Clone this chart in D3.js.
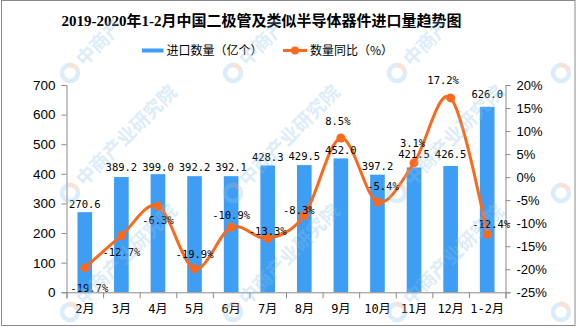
<!DOCTYPE html>
<html><head><meta charset="utf-8">
<script src="https://cdn.jsdelivr.net/npm/d3@7"></script>
<style>body{margin:0;background:#fff}svg{display:block}</style>
</head><body><svg id="c" width="577" height="327"></svg>
<script>
// ---- data ----
const title = "2019-2020年1-2月中国二极管及类似半导体器件进口量趋势图";
const categories = ["2月","3月","4月","5月","6月","7月","8月","9月","10月","11月","12月","1-2月"];
const importQty = [270.6,389.2,399.0,392.2,392.1,428.3,429.5,452.0,397.2,421.5,426.5,626.0];
const yoyPct = [-19.7,-12.7,-6.3,-19.9,-10.9,-13.3,-8.3,8.5,-5.4,3.1,17.2,-12.4];
const leftTicks = [0,100,200,300,400,500,600,700];
const rightTicks = [-25,-20,-15,-10,-5,0,5,10,15,20];
const legendNames = ["进口数量（亿个）","数量同比（%）"];
const watermark = "中商产业研究院";
const watermarkTop = "中商产";

// ---- label placement (style) ----
const barLabelDy = [-8,-9.5,-7,-9,-9,-8,-8.5,-8.5,-8.5,-13,-12,-12.5];
const pctLabelDx = [4.5,0,0,0,0,0,-5.5,-3,5.5,-1.5,-7.5,4];
const pctLabelDy = [20,16.5,14,-14,-12,-7,-5.5,-17,-15.5,-19.5,-18,-10];

const blue = "#3E9EF3", orange = "#FA6A1E", axisCol = "#8c8c8c";
const svg = d3.select("#c");
const L = 66.5, R = 505.5, T = 85, B = 292.3;

// frame
svg.append("rect").attr("x",1.5).attr("y",0.5).attr("width",573.5).attr("height",325)
  .attr("fill","#fff").attr("stroke","#8a8a8a").attr("stroke-width",1);

// title
svg.append("text").attr("x",261.5).attr("y",26).attr("text-anchor","middle")
  .attr("font-family","'Liberation Serif','Noto Sans CJK SC'").attr("font-weight","bold")
  .attr("font-size",15).attr("fill","#000").text(title);

// legend
svg.append("rect").attr("x",142).attr("y",48.5).attr("width",21.5).attr("height",4).attr("fill",blue);
svg.append("text").attr("x",166.5).attr("y",55).attr("font-family","'Noto Sans CJK SC'")
  .attr("font-size",12).attr("fill","#000").text(legendNames[0]);
svg.append("line").attr("x1",283).attr("x2",307).attr("y1",50.5).attr("y2",50.5)
  .attr("stroke",orange).attr("stroke-width",3);
svg.append("circle").attr("cx",295).attr("cy",50.5).attr("r",4).attr("fill",orange);
svg.append("text").attr("x",310).attr("y",55).attr("font-family","'Noto Sans CJK SC'")
  .attr("font-size",12).attr("fill","#000").text(legendNames[1]);

// scales
const x = d3.scaleBand().domain(categories).range([L,R]).paddingInner(0).paddingOuter(0);
const bw = x.bandwidth()*0.4;
const yL = d3.scaleLinear().domain([0,700]).range([B,T]);
const yR = d3.scaleLinear().domain([-25,20]).range([B,T]);

// bars
svg.append("g").selectAll("rect").data(importQty).join("rect")
  .attr("x",(d,i)=>x(categories[i])+x.bandwidth()/2-bw/2)
  .attr("y",d=>yL(d)).attr("width",bw).attr("height",d=>B-yL(d)).attr("fill",blue);

// axes
const ax = svg.append("g").attr("transform",`translate(${L},0)`)
  .call(d3.axisLeft(yL).tickValues(leftTicks).tickSize(5).tickPadding(6).tickFormat(d3.format("d")));
const ar = svg.append("g").attr("transform",`translate(${R},0)`)
  .call(d3.axisRight(yR).tickValues(rightTicks).tickSize(5).tickPadding(6).tickFormat(d=>d+"%"));
const xb = d3.scaleLinear().domain([0,categories.length]).range([L,R]);
const axb = svg.append("g").attr("transform",`translate(0,${B})`)
  .call(d3.axisBottom(xb).tickValues(d3.range(categories.length+1)).tickSize(6).tickFormat(""));
[ax,ar,axb].forEach(g=>{
  g.select(".domain").attr("stroke",axisCol);
  g.selectAll(".tick line").attr("stroke",axisCol);
  g.selectAll("text").attr("font-family","'Liberation Sans'").attr("font-size",13.5).attr("fill","#000");
});
ar.selectAll("text").attr("font-size",13);
// x labels
svg.append("g").selectAll("text").data(categories).join("text")
  .attr("x",d=>x(d)+x.bandwidth()/2).attr("y",313).attr("text-anchor","middle")
  .attr("font-family","'DejaVu Sans Mono','Noto Sans CJK SC'").attr("font-size",12).attr("fill","#000")
  .text(d=>d);

// line
const pts = yoyPct.map((v,i)=>[x(categories[i])+x.bandwidth()/2, yR(v)]);
svg.append("path").attr("d",d3.line().curve(d3.curveCardinal.tension(0))(pts))
  .attr("fill","none").attr("stroke",orange).attr("stroke-width",3);
svg.append("g").selectAll("circle").data(pts).join("circle")
  .attr("cx",d=>d[0]).attr("cy",d=>d[1]).attr("r",4.5).attr("fill",orange);

// bar labels
const lblFont = "'DejaVu Sans Mono','Liberation Mono',monospace";
svg.append("g").selectAll("text").data(importQty).join("text")
  .attr("x",(d,i)=>x(categories[i])+x.bandwidth()/2)
  .attr("y",(d,i)=>yL(d)+barLabelDy[i]).attr("dy","0.35em").attr("text-anchor","middle")
  .attr("font-family",lblFont).attr("font-size",10.5).attr("fill","#000")
  .text(d=>d.toFixed(1));
// pct labels
svg.append("g").selectAll("text").data(yoyPct).join("text")
  .attr("x",(d,i)=>pts[i][0]+pctLabelDx[i])
  .attr("y",(d,i)=>pts[i][1]+pctLabelDy[i]).attr("dy","0.35em").attr("text-anchor","middle")
  .attr("font-family",lblFont).attr("font-size",10.5).attr("fill","#000")
  .text(d=>d.toFixed(1)+"%");

// watermarks
const wm = svg.append("g").attr("pointer-events","none");
const wmX = [70,233,397,561], wmY = [73,193,312];
wmY.forEach((wy,ri)=>wmX.forEach(wx=>{
  const g = wm.append("g").attr("transform",`translate(${wx},${wy})`).attr("opacity",0.3);
  g.append("circle").attr("r",8).attr("fill","none").attr("stroke","#8fc3ea").attr("stroke-width",4.5);
  g.append("path").attr("d",d3.arc().innerRadius(5.8).outerRadius(10.2).startAngle(-0.2).endAngle(1.2)())
    .attr("fill","#f5a27a");
  if (wx + 100 < 577) g.append("text").attr("transform","rotate(-45) translate(14,6)")
    .attr("font-family","'Noto Sans CJK SC'").attr("font-size",19).attr("font-weight","bold")
    .attr("fill","#8fc3ea").text(ri===0 ? watermarkTop : watermark);
}));
</script></body></html>
